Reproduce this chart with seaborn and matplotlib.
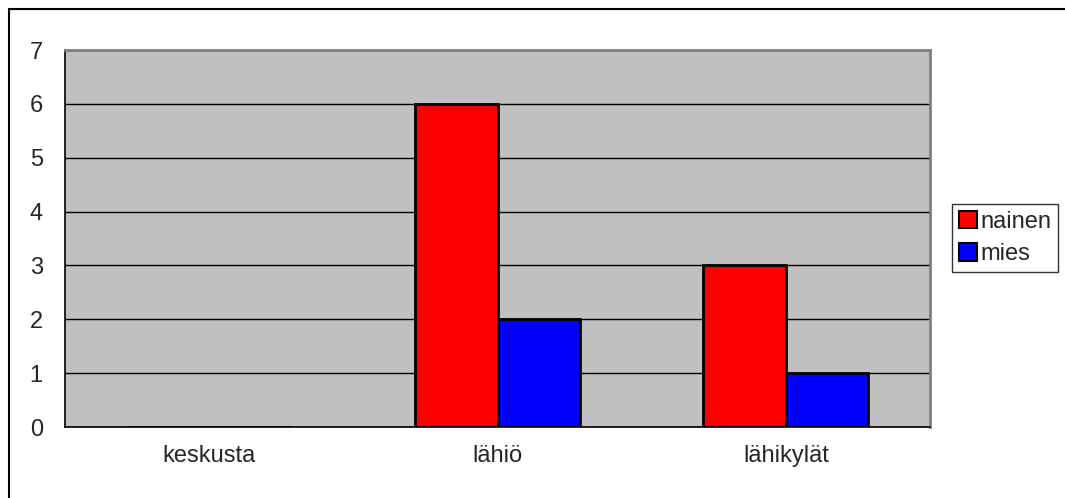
import matplotlib
matplotlib.use("Agg")
import matplotlib.pyplot as plt
import seaborn as sns
import pandas as pd
from matplotlib.patches import Rectangle
from matplotlib.ticker import FixedLocator

categories = ["keskusta", "lähiö", "lähikylät"]
nainen = [0, 6, 3]
mies = [0, 2, 1]
series_names = ["nainen", "mies"]
colors = ["#FF0000", "#0000FF"]

df = pd.DataFrame({
    "alue": categories * 2,
    "sarja": [series_names[0]] * 3 + [series_names[1]] * 3,
    "arvo": nainen + mies,
})

sns.set_style("white")
plt.rcParams["font.family"] = ["Liberation Sans", "DejaVu Sans"]

fig = plt.figure(figsize=(10.65, 4.98), dpi=100)
ax = fig.add_axes([65 / 1065, 1 - 427 / 498, (930 - 65) / 1065, (427 - 50) / 498])

sns.barplot(data=df, x="alue", y="arvo", hue="sarja", order=categories,
            hue_order=series_names, palette=colors, width=0.573,
            edgecolor="black", linewidth=2, saturation=1, ax=ax, legend=False)

ax.set_facecolor("#C0C0C0")
ax.set_xlim(-0.5, 2.5)
ax.set_ylim(0, 7)
ax.set_yticks(range(0, 8))
ax.yaxis.grid(True, color="black", linewidth=1)
ax.set_axisbelow(True)
ax.set_xlabel("")
ax.set_ylabel("")

for s in ["top", "right"]:
    ax.spines[s].set_color("#808080")
    ax.spines[s].set_linewidth(2)
for s in ["left", "bottom"]:
    ax.spines[s].set_color("black")
    ax.spines[s].set_linewidth(1.2)

ax.tick_params(axis="x", which="major", length=0, labelsize=17, pad=13)
ax.xaxis.set_minor_locator(FixedLocator([-0.5, 0.5, 1.5, 2.5]))
ax.tick_params(axis="x", which="minor", length=6, width=1.2, direction="out", color="black")
ax.tick_params(axis="y", length=6, width=1.2, direction="out", labelsize=17, pad=10, color="black")

handles = [Rectangle((0, 0), 1, 1, facecolor=c, edgecolor="black", linewidth=1.5) for c in colors]
leg = fig.legend(handles, series_names, loc="center left",
                 bbox_to_anchor=(952 / 1065, 1 - 238 / 498), frameon=True,
                 fancybox=False, edgecolor="black", fontsize=17,
                 handlelength=0.75, handleheight=0.75, handletextpad=0.15,
                 borderpad=0.3, labelspacing=0.45, borderaxespad=0)
leg.get_frame().set_linewidth(1)

fig.patches.append(Rectangle((9 / 1065, -0.2), 1.5, 0.2 + (1 - 9 / 498),
                             transform=fig.transFigure, fill=False,
                             edgecolor="black", linewidth=1.5))

fig.savefig("out.png", dpi=100)
